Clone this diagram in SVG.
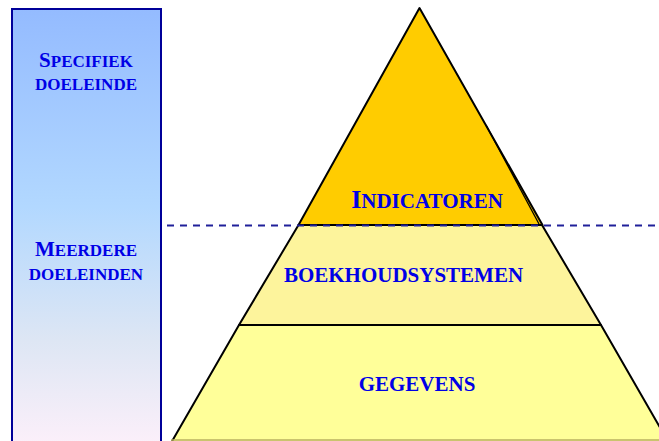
<svg xmlns="http://www.w3.org/2000/svg" width="659" height="441" viewBox="0 0 659 441">
<defs>
<linearGradient id="sideGrad" x1="0" y1="0" x2="0" y2="1">
<stop offset="0" stop-color="#94bbff"/>
<stop offset="0.45" stop-color="#b2d8ff"/>
<stop offset="0.75" stop-color="#dde6f4"/>
<stop offset="1" stop-color="#fdf0fa"/>
</linearGradient>
</defs>
<style>
.lbl{font-family:"Liberation Serif","Times New Roman",serif;font-weight:bold;fill:#0000e6;text-anchor:middle}
.layer{stroke:#000;stroke-width:2;stroke-linejoin:round}
</style>
<rect width="659" height="441" fill="#fff"/>
<g id="scale">
<rect x="12" y="9" width="149" height="440" fill="url(#sideGrad)" stroke="#000099" stroke-width="2"/>
<text class="lbl" x="86" y="67" font-size="17"><tspan font-size="21">S</tspan>PECIFIEK</text>
<text class="lbl" x="86" y="90" font-size="17">DOELEINDE</text>
<text class="lbl" x="86" y="256" font-size="17"><tspan font-size="21">M</tspan>EERDERE</text>
<text class="lbl" x="86" y="280" font-size="17">DOELEINDEN</text>
</g>
<g id="layer-gegevens">
<polygon class="layer" points="239,325 601,325 669,443 171,443" fill="#ffff99"/>
<line x1="171" y1="440" x2="659" y2="440" stroke="#b8b060" stroke-width="1.5"/>
<text class="lbl" x="417" y="391" font-size="21">GEGEVENS</text>
</g>
<g id="layer-boekhoudsystemen">
<polygon class="layer" points="298.5,225 542,225 601,325 239,325" fill="#fdf49c"/>
<text class="lbl" x="403.5" y="282" font-size="21">BOEKHOUDSYSTEMEN</text>
</g>
<g id="layer-indicatoren">
<polygon class="layer" points="419.5,8 542.5,225 298.5,225" fill="#ffcc00"/>
<line x1="486" y1="125" x2="539" y2="224" stroke="#000" stroke-width="1.3"/>
<text class="lbl" x="427" y="208" font-size="21"><tspan font-size="26">I</tspan>NDICATOREN</text>
</g>
<g id="connectors">
<line x1="167" y1="225.5" x2="659" y2="225.5" stroke="#20209a" stroke-width="2" stroke-dasharray="7,6"/>
</g>
</svg>
